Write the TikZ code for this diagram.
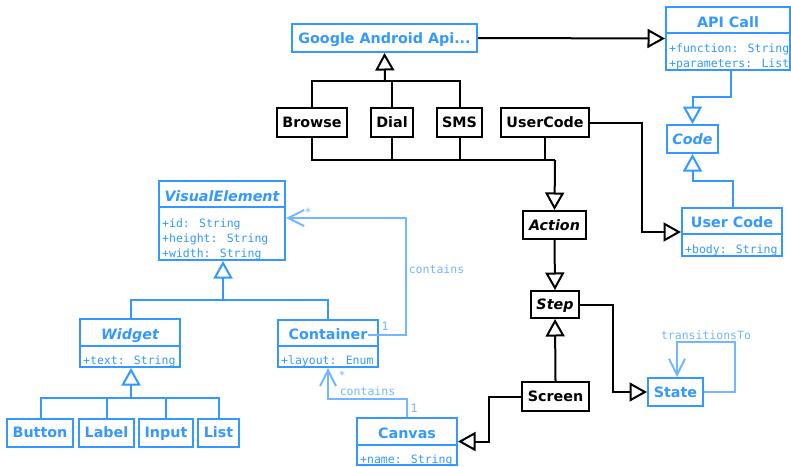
\documentclass[tikz,border=0pt]{standalone}
\usepackage{fontspec}
\setmainfont{DejaVu Sans}
\newfontfamily\attrfont{DejaVu Sans Mono}
\usetikzlibrary{arrows.meta}
\definecolor{umlblue}{RGB}{51,153,255}
\definecolor{umllight}{RGB}{115,183,255}
\tikzset{
  frame/.style={draw, line width=2pt, inner sep=0pt, fill=white},
  bluecls/.style={frame, draw=umlblue},
  blackcls/.style={frame, draw=black},
  title/.style={inner sep=0pt, text height=10.5pt, text depth=0pt, font=\bfseries\fontsize{14.3}{16}\selectfont},
  bluetitle/.style={title, text=umlblue},
  abstract/.style={font=\bfseries\itshape\fontsize{14.3}{16}\selectfont},
  attr/.style={inner sep=0pt, anchor=base west, text=umlblue, font=\attrfont\fontsize{11.5}{15}\selectfont},
  sepline/.style={draw=umlblue, line width=2pt},
  conn/.style={line width=2pt},
  gen/.style={conn, -{Triangle[length=17.5pt,width=19pt,fill=white]}},
  bgen/.style={gen, draw=umlblue},
  bline/.style={conn, draw=umlblue},
  assoc/.style={conn, draw=umllight, -{Straight Barb[length=16pt,width=16pt]}},
  lbl/.style={inner sep=1pt, text=umllight, font=\attrfont\fontsize{11.5}{14}\selectfont},
}
\begin{document}
\begin{tikzpicture}[x=1pt,y=-1pt]
\useasboundingbox (0,0) rectangle (791,466);

% ---- Android API side ----
\node[bluecls, bluetitle, minimum width=185pt, minimum height=28pt] (gaa) at (384.5,38) {Google Android Api...};

\node[bluecls, minimum width=124pt, minimum height=63pt] (api) at (728,38.5) {};
\node[bluetitle] (apit) at (728,22) {API Call};
\draw[sepline] ([yshift=-27pt]api.north west) -- ([yshift=-27pt]api.north east);
\node[attr] (apia1) at (669,52) {+function: String};
\node[attr] (apia2) at (669,67) {+parameters: List};

\node[bluecls, bluetitle, abstract, minimum width=51pt, minimum height=28pt] (code) at (692.5,139) {Code};

\node[bluecls, minimum width=100pt, minimum height=48pt] (ucls) at (732,232) {};
\node[bluetitle] (uclst) at (732,222.5) {User Code};
\draw[sepline] ([yshift=-27pt]ucls.north west) -- ([yshift=-27pt]ucls.north east);
\node[attr] (uclsa1) at (685,253) {+body: String};

\node[blackcls, title, minimum width=70pt, minimum height=29pt] (browse) at (312,122.5) {Browse};
\node[blackcls, title, minimum width=42pt, minimum height=29pt] (dial) at (392,122.5) {Dial};
\node[blackcls, title, minimum width=45pt, minimum height=29pt] (sms) at (459.5,122.5) {SMS};
\node[blackcls, title, minimum width=88pt, minimum height=29pt] (usercode) at (545,122.5) {UserCode};

% ---- steps ----
\node[blackcls, title, abstract, minimum width=63pt, minimum height=28pt] (action) at (554.5,225) {Action};
\node[blackcls, title, abstract, minimum width=48pt, minimum height=27pt] (step) at (555,304.5) {Step};
\node[blackcls, title, minimum width=67pt, minimum height=29pt] (screen) at (555.5,396.5) {Screen};
\node[bluecls, bluetitle, minimum width=55pt, minimum height=28pt] (state) at (675.5,392) {State};

% ---- visual elements ----
\node[bluecls, minimum width=126pt, minimum height=79pt] (ve) at (222,220.5) {};
\node[bluetitle, abstract] (vet) at (222,196) {VisualElement};
\draw[sepline] ([yshift=-27pt]ve.north west) -- ([yshift=-27pt]ve.north east);
\node[attr] (vea1) at (162,227) {+id: String};
\node[attr] (vea2) at (162,242) {+height: String};
\node[attr] (vea3) at (162,257) {+width: String};

\node[bluecls, minimum width=100pt, minimum height=48pt] (widget) at (130,343) {};
\node[bluetitle, abstract] (widgett) at (130,334) {Widget};
\draw[sepline] ([yshift=-28pt]widget.north west) -- ([yshift=-28pt]widget.north east);
\node[attr] (widgeta1) at (83,364) {+text: String};

\node[bluecls, minimum width=100pt, minimum height=47pt] (cont) at (328,343.5) {};
\node[bluetitle] (contt) at (328,334.5) {Container};
\draw[sepline] ([yshift=-27pt]cont.north west) -- ([yshift=-27pt]cont.north east);
\node[attr] (conta1) at (281,364) {+layout: Enum};

\node[bluecls, minimum width=100pt, minimum height=47pt] (canvas) at (407,441.5) {};
\node[bluetitle] (canvast) at (407,433) {Canvas};
\draw[sepline] ([yshift=-28pt]canvas.north west) -- ([yshift=-28pt]canvas.north east);
\node[attr] (canvasa1) at (360,463) {+name: String};

\node[bluecls, bluetitle, minimum width=66pt, minimum height=28pt] (button) at (40,432.5) {Button};
\node[bluecls, bluetitle, minimum width=55pt, minimum height=28pt] (label) at (106.5,432.5) {Label};
\node[bluecls, bluetitle, minimum width=54pt, minimum height=28pt] (input) at (166,432.5) {Input};
\node[bluecls, bluetitle, minimum width=41pt, minimum height=28pt] (list) at (218.5,432.5) {List};

% ---- bend and join points ----
\coordinate (gaaj) at (385,81);
\coordinate (actj) at (555,160);
\coordinate (apibend) at (700,97);
\coordinate (ucbend) at (710,181);
\coordinate (ucturn) at (642,180);
\coordinate (stturn) at (613,350);
\coordinate (scturn) at (489,420);
\coordinate (loopc) at (735,342);
\coordinate (vej) at (223,300);
\coordinate (wj) at (131,398);
\coordinate (vturn) at (406,270);
\coordinate (ccj) at (360,399);

% ---- black generalisations ----
\draw[conn] (browse.north) |- (gaaj) -| (sms.north);
\draw[conn] (dial.north) -- (dial.north |- gaaj);
\draw[gen] (gaaj) -- (gaa.south);

\draw[conn] (browse.south) |- (actj);
\draw[conn] (dial.south) -- (dial.south |- actj);
\draw[conn] (sms.south) -- (sms.south |- actj);
\draw[conn] (usercode.south) -- (usercode.south |- actj);
\draw[gen] (actj) -- (action.north);

\draw[gen] (gaa.east) -- (api.west);
\draw[gen] (usercode.east) -| (ucturn) |- (ucls.west);
\draw[gen] (action.south) -- (step.north);
\draw[gen] (screen.north) -- (step.south);
\draw[gen] (step.east) -| (stturn) |- (state.west);
\draw[gen] (screen.west) -| (scturn) |- (canvas.east);

% ---- blue generalisations ----
\draw[bgen] ([xshift=3pt]api.south) |- (apibend) -| (code.north);
\draw[bgen] ([xshift=1pt]ucls.north) |- (ucbend) -| (code.south);

\draw[bline] ([xshift=1pt]widget.north) |- (vej) -| (cont.north);
\draw[bgen] (vej) -- ([xshift=1pt]ve.south);

\draw[bline] ([xshift=1pt]button.north) |- (wj) -| ([xshift=0.5pt]list.north);
\draw[bline] ([xshift=0.5pt]label.north) -- ([xshift=0.5pt]label.north |- wj);
\draw[bline] (input.north) -- (input.north |- wj);
\draw[bgen] (wj) -- ([xshift=1pt]widget.south);

% ---- associations ----
\draw[assoc] (state.east) -| (loopc) -| ([xshift=1.5pt]state.north);
\node[lbl] (loopl) at (706,335) {transitionsTo};

\draw[assoc] (contt.east) -| (vturn) |- ([yshift=2.5pt]ve.east);
\node[lbl, fill=white] (vecont) at (436.5,269) {contains};
\node[lbl] (vemany) at (308,212) {*};
\node[lbl] (veone) at (385,326) {1};

\draw[assoc] (canvas.north) |- (ccj) -| (cont.south);
\node[lbl, fill=white] (cvcont) at (367.5,391) {contains};
\node[lbl] (cvmany) at (342,375) {*};
\node[lbl] (cvone) at (414,408) {1};
\end{tikzpicture}
\end{document}
